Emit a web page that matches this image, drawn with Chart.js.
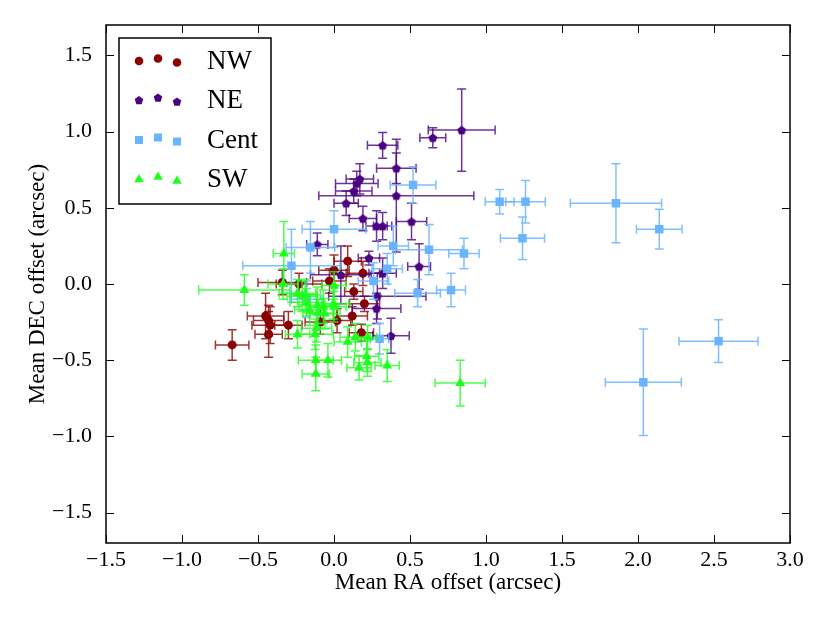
<!DOCTYPE html>
<html>
<head>
<meta charset="utf-8">
<title>Mean RA / DEC offsets</title>
<script src="https://cdn.jsdelivr.net/npm/chart.js@4.4.1/dist/chart.umd.min.js"></script>
<style>
  html, body { margin: 0; padding: 0; background: #ffffff; }
  #wrap { width: 830px; height: 623px; }
</style>
</head>
<body>
<div id="wrap"><canvas id="myChart" width="830" height="623"></canvas></div>
<script>
"use strict";

/* ****************************************************************************
    DATA (arcsec)
**************************************************************************** */
var seriesNames = ["NW", "NE", "Cent", "SW"];

// NW region - dark red circles
var nwX    = [-0.67, -0.45, -0.43, -0.42, -0.43, -0.30, -0.34, -0.23, -0.09, 0.02, -0.03, 0.00, 0.09, 0.19, 0.13, 0.20, 0.12, 0.18];
var nwY    = [-0.40, -0.21, -0.24, -0.27, -0.33, -0.27, 0.01, 0.00, -0.25, -0.24, 0.02, 0.09, 0.15, 0.07, -0.05, -0.13, -0.21, -0.32];
var nwXErr = [0.11, 0.12, 0.10, 0.12, 0.09, 0.09, 0.16, 0.15, 0.10, 0.09, 0.11, 0.10, 0.09, 0.11, 0.06, 0.10, 0.10, 0.08];
var nwYErr = [0.10, 0.15, 0.10, 0.12, 0.15, 0.09, 0.08, 0.07, 0.08, 0.08, 0.08, 0.10, 0.10, 0.08, 0.05, 0.05, 0.06, 0.055];

// NE region - indigo pentagons
var neX    = [0.84, 0.65, 0.32, 0.41, 0.41, 0.17, 0.15, 0.13, 0.08, 0.19, 0.28, 0.32, 0.51, -0.11, 0.23, 0.56, 0.32, 0.045, 0.285, 0.28, 0.375];
var neY    = [1.01, 0.96, 0.91, 0.76, 0.58, 0.69, 0.66, 0.61, 0.53, 0.43, 0.38, 0.38, 0.41, 0.26, 0.17, 0.115, 0.07, 0.06, -0.08, -0.16, -0.34];
var neXErr = [0.22, 0.085, 0.10, 0.13, 0.51, 0.09, 0.14, 0.12, 0.08, 0.09, 0.07, 0.06, 0.10, 0.07, 0.07, 0.075, 0.09, 0.20, 0.32, 0.16, 0.12];
var neYErr = [0.27, 0.065, 0.085, 0.10, 0.37, 0.10, 0.08, 0.08, 0.08, 0.08, 0.10, 0.09, 0.12, 0.075, 0.045, 0.15, 0.10, 0.19, 0.15, 0.10, 0.115];

// Central region - light blue squares
var centX    = [1.09, 1.26, 1.855, 2.14, 1.24, 0.855, 2.53, 2.035, 0.52, 0.00, -0.155, -0.28, 0.39, 0.625, 0.35, 0.26, 0.55, 0.77, 0.30, -0.18];
var centY    = [0.54, 0.54, 0.53, 0.36, 0.30, 0.20, -0.375, -0.645, 0.65, 0.36, 0.24, 0.12, 0.25, 0.225, 0.10, 0.02, -0.06, -0.04, -0.36, -0.10];
var centXErr = [0.095, 0.13, 0.30, 0.15, 0.145, 0.10, 0.26, 0.25, 0.15, 0.21, 0.16, 0.32, 0.10, 0.22, 0.10, 0.10, 0.15, 0.095, 0.06, 0.10];
var centYErr = [0.08, 0.14, 0.26, 0.13, 0.14, 0.10, 0.14, 0.35, 0.12, 0.12, 0.17, 0.24, 0.13, 0.165, 0.10, 0.12, 0.09, 0.11, 0.10, 0.12];

// SW region - lime triangles
var swX    = [-0.59, -0.33, -0.335, -0.24, -0.21, -0.18, -0.16, -0.11, -0.105, -0.06, -0.005, 0.00, -0.24, -0.125, 0.09, 0.14, 0.22, 0.215, 0.22, 0.165, 0.35, 0.83, -0.12, -0.04, -0.12, -0.115, -0.19, -0.07, 0.00];
var swY    = [-0.04, 0.20, 0.00, -0.06, -0.08, -0.12, -0.17, -0.14, -0.19, -0.195, -0.13, -0.01, -0.33, -0.33, -0.38, -0.35, -0.35, -0.475, -0.515, -0.55, -0.535, -0.65, -0.50, -0.50, -0.59, -0.29, -0.07, -0.15, -0.15];
var swXErr = [0.30, 0.07, 0.10, 0.12, 0.10, 0.11, 0.10, 0.12, 0.10, 0.10, 0.11, 0.08, 0.08, 0.12, 0.09, 0.10, 0.06, 0.08, 0.09, 0.08, 0.08, 0.165, 0.115, 0.09, 0.09, 0.10, 0.10, 0.10, 0.08];
var swYErr = [0.10, 0.21, 0.10, 0.09, 0.10, 0.09, 0.10, 0.12, 0.09, 0.10, 0.10, 0.09, 0.09, 0.10, 0.10, 0.09, 0.08, 0.10, 0.09, 0.08, 0.105, 0.15, 0.10, 0.11, 0.11, 0.09, 0.10, 0.11, 0.10];

// axis ticks
var xTicks = [-1.5, -1.0, -0.5, 0.0, 0.5, 1.0, 1.5, 2.0, 2.5, 3.0];
var yTicks = [-1.5, -1.0, -0.5, 0.0, 0.5, 1.0, 1.5];

/* ****************************************************************************
    STYLE
**************************************************************************** */
var FONT = "'Liberation Serif', 'DejaVu Serif', serif";
var colNW = "#8b0000";
var colNE = "#4b0082";
var colCent = "#6ab4ff";
var colSW = "#1eff1e";

/**
 * Build a small canvas holding a filled pentagon, used as a point style.
 */
function makePentagon(color, r) {
  var size = Math.ceil(r * 2 + 2);
  var c = document.createElement("canvas");
  c.width = size;
  c.height = size;
  var g = c.getContext("2d");
  g.fillStyle = color;
  pentagonPath(g, size / 2, size / 2 + 0.5, r);
  g.fill();
  return c;
}

function pentagonPath(g, cx, cy, r) {
  g.beginPath();
  for (var i = 0; i < 5; i++) {
    var a = -Math.PI / 2 + (i * 2 * Math.PI) / 5;
    var px = cx + r * Math.cos(a);
    var py = cy + r * Math.sin(a);
    if (i === 0) g.moveTo(px, py);
    else g.lineTo(px, py);
  }
  g.closePath();
}

/**
 * Zip the small arrays into Chart.js point objects.
 */
function toPoints(xs, ys, xe, ye) {
  var pts = [];
  for (var i = 0; i < xs.length; i++) {
    pts.push({ x: xs[i], y: ys[i], xErr: xe[i], yErr: ye[i] });
  }
  return pts;
}

function formatTick(v) {
  var s = Math.abs(v).toFixed(1);
  return v < 0 ? "\u2212" + s : s;
}

/* ****************************************************************************
    PLUGINS
**************************************************************************** */

// error bars are drawn just before each dataset's markers
var errorBarPlugin = {
  id: "errorBars",
  beforeDatasetDraw: function (chart, args) {
    var ds = chart.data.datasets[args.index];
    var xs = chart.scales.x;
    var ys = chart.scales.y;
    var ctx = chart.ctx;
    var cap = 4.5;
    ctx.save();
    ctx.strokeStyle = ds.errorColor;
    ctx.lineWidth = 1.5;
    for (var i = 0; i < ds.data.length; i++) {
      var p = ds.data[i];
      var px = xs.getPixelForValue(p.x);
      var py = ys.getPixelForValue(p.y);
      var x0 = xs.getPixelForValue(p.x - p.xErr);
      var x1 = xs.getPixelForValue(p.x + p.xErr);
      var y0 = ys.getPixelForValue(p.y - p.yErr);
      var y1 = ys.getPixelForValue(p.y + p.yErr);
      ctx.beginPath();
      ctx.moveTo(x0, py); ctx.lineTo(x1, py);
      ctx.moveTo(px, y0); ctx.lineTo(px, y1);
      ctx.moveTo(x0, py - cap); ctx.lineTo(x0, py + cap);
      ctx.moveTo(x1, py - cap); ctx.lineTo(x1, py + cap);
      ctx.moveTo(px - cap, y0); ctx.lineTo(px + cap, y0);
      ctx.moveTo(px - cap, y1); ctx.lineTo(px + cap, y1);
      ctx.stroke();
    }
    ctx.restore();
  }
};

// matplotlib-like frame with inward ticks on all four sides
var framePlugin = {
  id: "frame",
  afterDraw: function (chart) {
    var a = chart.chartArea;
    var ctx = chart.ctx;
    var tl = 8;
    ctx.save();
    ctx.strokeStyle = "#000";
    ctx.lineWidth = 1.5;
    ctx.strokeRect(a.left, a.top, a.right - a.left, a.bottom - a.top);
    ctx.lineWidth = 1;
    ctx.beginPath();
    chart.scales.x.ticks.forEach(function (t) {
      var px = Math.round(chart.scales.x.getPixelForValue(t.value)) + 0.5;
      ctx.moveTo(px, a.bottom); ctx.lineTo(px, a.bottom - tl);
      ctx.moveTo(px, a.top); ctx.lineTo(px, a.top + tl);
    });
    chart.scales.y.ticks.forEach(function (t) {
      var py = Math.round(chart.scales.y.getPixelForValue(t.value)) + 0.5;
      ctx.moveTo(a.left, py); ctx.lineTo(a.left + tl, py);
      ctx.moveTo(a.right, py); ctx.lineTo(a.right - tl, py);
    });
    ctx.stroke();
    ctx.restore();
  }
};

function drawMarker(ctx, kind, x, y, color) {
  ctx.fillStyle = color;
  ctx.beginPath();
  if (kind === "circle") {
    ctx.arc(x, y, 4.3, 0, Math.PI * 2);
  } else if (kind === "pentagon") {
    pentagonPath(ctx, x, y, 4.5);
  } else if (kind === "square") {
    ctx.rect(x - 4, y - 4, 8, 8);
  } else {
    ctx.moveTo(x, y - 5.5);
    ctx.lineTo(x + 4.8, y + 2.8);
    ctx.lineTo(x - 4.8, y + 2.8);
    ctx.closePath();
  }
  ctx.fill();
}

// boxed legend in the upper left, three scatter markers per entry
var legendPlugin = {
  id: "boxLegend",
  afterDraw: function (chart) {
    var ctx = chart.ctx;
    var a = chart.chartArea;
    var left = a.left + 13;
    var top = a.top + 13;
    var rows = [60.5, 100, 139.5, 179];
    var jitter = [2.5, 0, 4];
    var mx = [139, 158, 177];
    ctx.save();
    ctx.fillStyle = "#fff";
    ctx.fillRect(left, top, 152, 166);
    ctx.strokeStyle = "#000";
    ctx.lineWidth = 1.5;
    ctx.strokeRect(left, top, 152, 166);
    chart.data.datasets.forEach(function (ds, i) {
      var ry = rows[i];
      for (var k = 0; k < 3; k++) {
        drawMarker(ctx, ds.legendMarker, mx[k], ry - 2 + jitter[k], ds.backgroundColor);
      }
      ctx.fillStyle = "#000";
      ctx.font = "27px " + FONT;
      ctx.textBaseline = "middle";
      ctx.textAlign = "left";
      ctx.fillText(ds.label, 207, ry + 1);
    });
    ctx.restore();
  }
};

/* ****************************************************************************
    CHART
**************************************************************************** */
function renderChart() {
  var datasets = [
    {
      label: seriesNames[0],
      data: toPoints(nwX, nwY, nwXErr, nwYErr),
      backgroundColor: colNW,
      borderColor: colNW,
      errorColor: "rgba(139,0,0,0.8)",
      pointStyle: "circle",
      pointRadius: 4.5,
      legendMarker: "circle",
      order: 4
    },
    {
      label: seriesNames[1],
      data: toPoints(neX, neY, neXErr, neYErr),
      backgroundColor: colNE,
      borderColor: colNE,
      errorColor: "rgba(75,0,130,0.8)",
      pointStyle: makePentagon(colNE, 4.7),
      pointRadius: 4.7,
      legendMarker: "pentagon",
      order: 3
    },
    {
      label: seriesNames[2],
      data: toPoints(centX, centY, centXErr, centYErr),
      backgroundColor: colCent,
      borderColor: colCent,
      errorColor: "rgba(106,180,255,0.85)",
      pointStyle: "rect",
      pointRadius: 6,
      legendMarker: "square",
      order: 2
    },
    {
      label: seriesNames[3],
      data: toPoints(swX, swY, swXErr, swYErr),
      backgroundColor: colSW,
      borderColor: colSW,
      errorColor: "rgba(30,255,30,0.8)",
      pointStyle: "triangle",
      pointRadius: 5.8,
      legendMarker: "triangle",
      order: 1
    }
  ];

  var config = {
    type: "scatter",
    data: { datasets: datasets },
    options: {
      responsive: false,
      animation: false,
      devicePixelRatio: 1,
      layout: { padding: { top: 25, right: 40, left: 0, bottom: 0 } },
      elements: { point: { borderWidth: 0, hoverRadius: 0 } },
      plugins: {
        legend: { display: false },
        tooltip: { enabled: false }
      },
      scales: {
        x: {
          type: "linear",
          min: -1.5,
          max: 3.0,
          afterBuildTicks: function (scale) {
            scale.ticks = xTicks.map(function (v) { return { value: v }; });
          },
          afterFit: function (scale) {
            scale.height = 80;
            scale.paddingLeft = 0;
            scale.paddingRight = 0;
          },
          grid: { display: false, drawTicks: false },
          border: { display: false },
          ticks: {
            callback: formatTick,
            autoSkip: false,
            maxRotation: 0,
            padding: 4,
            color: "#000",
            font: { family: FONT, size: 22 }
          },
          title: {
            display: true,
            text: "Mean RA offset (arcsec)",
            color: "#000",
            font: { family: FONT, size: 23 },
            padding: { top: 0, bottom: 26 }
          }
        },
        y: {
          type: "linear",
          min: -1.7,
          max: 1.7,
          afterBuildTicks: function (scale) {
            scale.ticks = yTicks.map(function (v) { return { value: v }; });
          },
          afterFit: function (scale) {
            scale.width = 106;
            scale.paddingTop = 0;
            scale.paddingBottom = 0;
          },
          grid: { display: false, drawTicks: false },
          border: { display: false },
          ticks: {
            callback: formatTick,
            autoSkip: false,
            padding: 14,
            color: "#000",
            font: { family: FONT, size: 22 }
          },
          title: {
            display: true,
            text: "Mean DEC offset (arcsec)",
            color: "#000",
            font: { family: FONT, size: 23 },
            padding: { top: 24, bottom: 0 }
          }
        }
      }
    },
    plugins: [errorBarPlugin, framePlugin, legendPlugin]
  };

  new Chart(document.getElementById("myChart"), config);
}

renderChart();
</script>
</body>
</html>
